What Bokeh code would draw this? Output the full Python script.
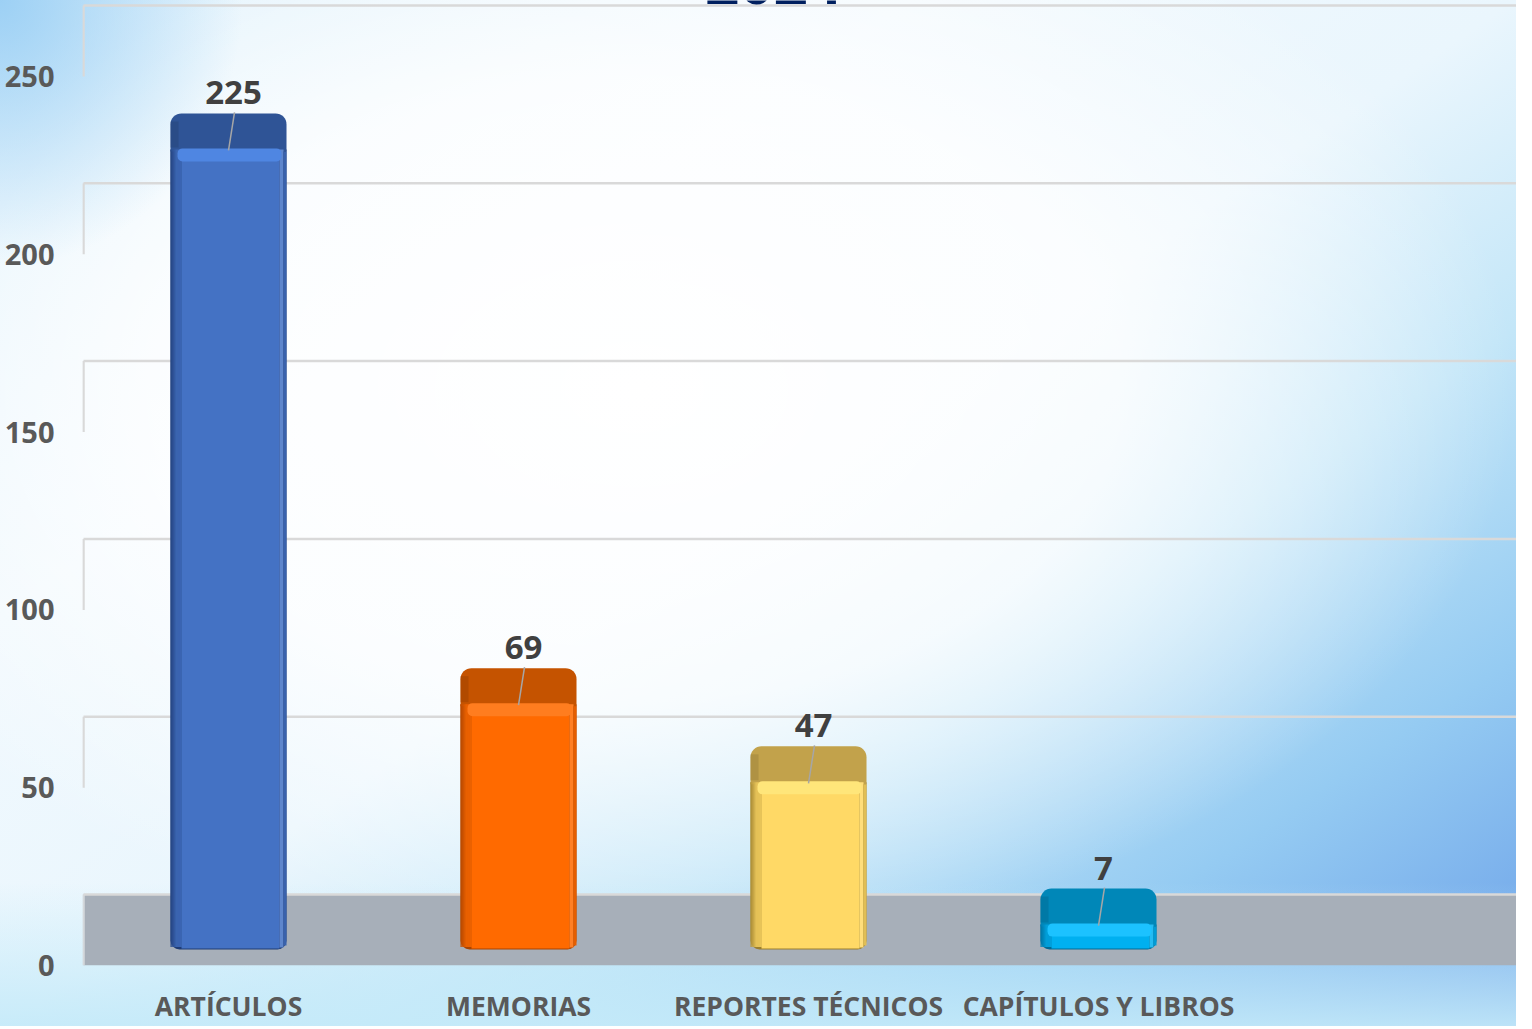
from bokeh.plotting import figure
from bokeh.models import Range1d, FixedTicker
from bokeh.core.properties import value
from bokeh.embed import file_html
from bokeh.resources import INLINE

# ---------------- data ----------------
categories = ["ARTÍCULOS", "MEMORIAS", "REPORTES TÉCNICOS", "CAPÍTULOS Y LIBROS"]
counts = [225, 69, 47, 7]
y_ticks = [0, 50, 100, 150, 200, 250]
title_text = "2024"

# ---------------- style ----------------
main_c = ["#4472c4", "#ff6a00", "#ffd966", "#00b0f0"]
dark_c = ["#1f3c75", "#a84300", "#9a7e2e", "#006a96"]
top_c = ["#2f5496", "#c55300", "#c2a24b", "#0087b8"]
band_c = ["#4f86e2", "#ff7d1f", "#ffe67a", "#1cc2ff"]

FONT = "Open Sans"
PX_X = 1 / 290.0          # data units per pixel (x)
PX_Y = 250 / 889.0        # data units per pixel (y)
DEPTH = 71 * PX_Y         # floor depth (back wall offset)
BAR_Z = 16 * PX_Y         # bar front-bottom offset
TOP_D = 36 * PX_Y         # bar top face depth
BAR_W = 116 * PX_X
X_END = 1434 * PX_X
Y_TOP = 965 * PX_Y


def mix(c1, c2, t):
    a = [int(c1[i:i + 2], 16) for i in (1, 3, 5)]
    b = [int(c2[i:i + 2], 16) for i in (1, 3, 5)]
    return "#" + "".join(f"{round(a[k] + (b[k] - a[k]) * t):02x}" for k in range(3))


p = figure(frame_width=1434, frame_height=965,
           x_range=Range1d(-0.0035, X_END - 0.0035), y_range=Range1d(0, Y_TOP),
           output_backend="svg", toolbar_location=None,
           min_border_left=82, min_border_right=0, min_border_top=0, min_border_bottom=0)
p.styles = {
    "background": (
        "radial-gradient(ellipse 16% 26% at 0% 0%, rgba(150,205,244,0.9) 0%, rgba(150,205,244,0) 100%),"
        "linear-gradient(to top, rgba(196,234,249,0.9) 0%, rgba(196,234,249,0) 14%),"
        "radial-gradient(ellipse 58% 55% at 42% 38%, rgba(255,255,255,1) 0%, rgba(255,255,255,0.8) 55%, rgba(255,255,255,0) 100%),"
        "linear-gradient(to bottom right, #dcf0fb 0%, #f1f9fe 30%, #eaf6fd 50%, #c3e6f8 66%, #95cbf2 82%, #6a9fe8 100%)"
    )
}
p.border_fill_alpha = 0
p.background_fill_alpha = 0
p.outline_line_color = None
p.xgrid.visible = False
p.ygrid.visible = False

# ---- axes ----
p.yaxis.ticker = FixedTicker(ticks=y_ticks)
p.yaxis.axis_line_color = None
p.yaxis.major_tick_line_color = None
p.yaxis.minor_tick_line_color = None
p.yaxis.major_tick_out = 0
p.yaxis.major_label_standoff = 28
p.yaxis.major_label_text_font = FONT
p.yaxis.major_label_text_font_style = "bold"
p.yaxis.major_label_text_font_size = "29px"
p.yaxis.major_label_text_color = "#595959"

pos = [i + 0.5 for i in range(len(categories))]
p.xaxis.ticker = FixedTicker(ticks=pos)
p.xaxis.major_label_overrides = {x: c for x, c in zip(pos, categories)}
p.xaxis.axis_line_color = None
p.xaxis.major_tick_line_color = None
p.xaxis.minor_tick_line_color = None
p.xaxis.major_tick_out = 0
p.xaxis.major_label_standoff = 22
p.xaxis.major_label_text_font = FONT
p.xaxis.major_label_text_font_style = "bold"
p.xaxis.major_label_text_font_size = "26.5px"
p.xaxis.major_label_text_color = "#595959"

# ---- floor ----
p.quad(left=0, right=X_END + 1, bottom=0, top=DEPTH, fill_color="#a7afb9", line_color=None)
p.segment(x0=0, y0=0, x1=0, y1=DEPTH, line_color="#d4d8dc", line_width=2.5)

# ---- back wall / side wall gridlines ----
gl = y_ticks
p.segment(x0=[0] * len(gl), y0=[v + DEPTH for v in gl], x1=[X_END + 1] * len(gl),
          y1=[v + DEPTH for v in gl], line_color="#d9d9d9", line_width=2.5)
p.segment(x0=[0] * (len(gl) - 1), y0=gl[1:], x1=[0] * (len(gl) - 1),
          y1=[v + DEPTH for v in gl[1:]], line_color="#d9d9d9", line_width=2.5)

# ---- bars ----
for i, (xc, v) in enumerate(zip(pos, counts)):
    ft = BAR_Z + v
    bt = ft + TOP_D
    left = xc - BAR_W / 2
    right = xc + BAR_W / 2
    # silhouette of front (dark)
    p.vbar(x=xc, width=BAR_W, bottom=BAR_Z, top=ft, fill_color=dark_c[i], line_color=None,
           border_radius=[0, 0, 9, 9])
    # top face
    p.vbar(x=xc, width=BAR_W, bottom=ft - 2 * PX_Y, top=bt, fill_color=top_c[i], line_color=None,
           border_radius=[11, 11, 0, 0])
    p.vbar(x=left + 4 * PX_X, width=8 * PX_X, bottom=ft + 2 * PX_Y, top=bt - 8 * PX_Y,
           fill_color=mix(top_c[i], "#000000", 0.2), fill_alpha=0.5, line_color=None)
    # left edge gradient
    n = 10
    for k in range(n):
        t = (k + 1) / n
        p.vbar(x=left + (k + 0.5) * PX_X * 1.1, width=1.15 * PX_X, bottom=BAR_Z + 2.5 * PX_Y,
               top=ft, fill_color=mix(dark_c[i], main_c[i], t ** 0.6), line_color=None)
    # main front
    fl = left + n * 1.1 * PX_X
    fr = right - 7 * PX_X
    p.vbar(x=(fl + fr) / 2, width=fr - fl, bottom=BAR_Z + 1 * PX_Y, top=ft,
           fill_color=main_c[i], line_color=None)
    # right edge: light then darker
    p.vbar(x=fr + 2 * PX_X, width=4 * PX_X, bottom=BAR_Z + 2 * PX_Y, top=ft,
           fill_color=mix(main_c[i], "#ffffff", 0.14), line_color=None)
    p.vbar(x=fr + 5.5 * PX_X, width=3 * PX_X, bottom=BAR_Z + 4 * PX_Y, top=ft - 2 * PX_Y,
           fill_color=mix(main_c[i], dark_c[i], 0.3), line_color=None)
    # highlight band at front top
    p.vbar(x=xc + 1 * PX_X, width=BAR_W - 12 * PX_X, bottom=ft - 12 * PX_Y, top=ft + 1 * PX_Y,
           fill_color=band_c[i], line_color=None, border_radius=5)
    # leader line
    p.segment(x0=xc, y0=ft - 1 * PX_Y, x1=xc + 6 * PX_X, y1=bt + 1 * PX_Y,
              line_color="#a6a6a6", line_width=1.5)

# ---- data labels ----
p.text(x=[x + 5 * PX_X for x in pos], y=[BAR_Z + v + TOP_D + 9 * PX_Y for v in counts],
       text=[str(v) for v in counts], text_align="center", text_baseline="bottom",
       text_font=value(FONT), text_font_style="bold", text_font_size="33px", text_color="#404040")

# ---- title (cut off at top, as in the reference) ----
p.text(x=[(780 - 90) * PX_X], y=[(973 - 11) * PX_Y], text=[title_text], text_align="center",
       text_baseline="bottom", text_font=value(FONT), text_font_style="bold",
       text_font_size="60px", text_color="#002060")

open("out.html", "w").write(file_html(p, INLINE))
